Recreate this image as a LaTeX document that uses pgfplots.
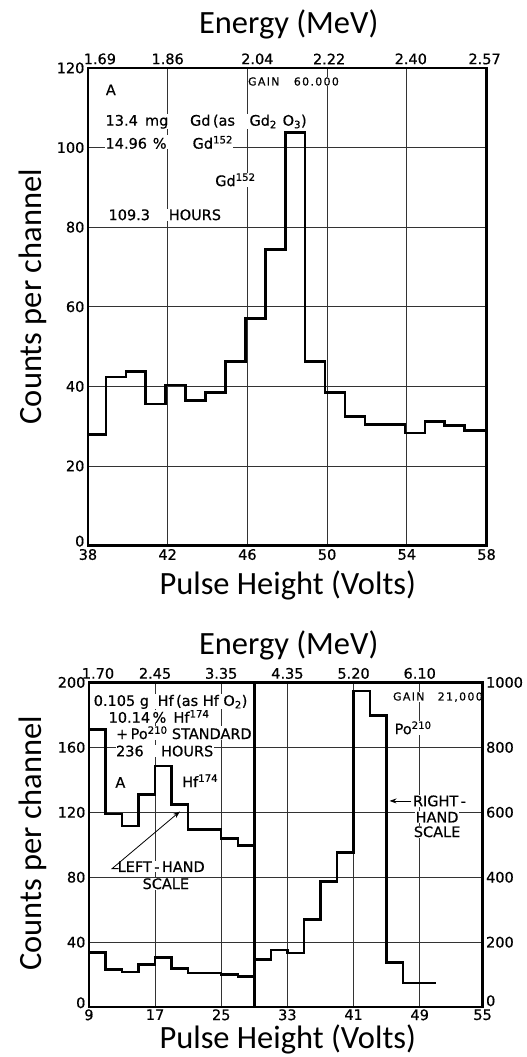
\documentclass[border=0pt]{standalone}
\usepackage{fontspec}
\setmainfont{DejaVu Sans}
\newfontfamily\labelfont{Carlito}
\newfontfamily\letterfont[FakeBold=0.6]{DejaVu Sans}
\usepackage{pgfplots}
\pgfplotsset{compat=1.18}
\usetikzlibrary{arrows.meta}

\pgfplotsset{
  panel/.style={scale only axis, anchor=south west,
    axis line style={line width=2.5pt},
    major tick length=0pt,
    tick label style={font=\letterfont\fontsize{14.5}{16}\selectfont},
    /pgf/number format/assume math mode=true,
    /pgf/number format/1000 sep={},
    clip=false},
  gridded/.style={set layers, grid=major, grid style={line width=0.7pt, black!80}},
  hist/.style={const plot, line width=2.5pt, black, mark=none},
}
\tikzset{
  ann/.style={font=\letterfont\fontsize{14.5}{16}\selectfont, inner sep=0.5pt, fill=white},
  small/.style={font=\letterfont\fontsize{11}{12}\selectfont\addfontfeature{LetterSpace=12}, inner sep=0.5pt, fill=white},
  biglabel/.style={font={\labelfont\fontsize{32.5}{38}\selectfont}},
}

\begin{document}
\begin{tikzpicture}[x=1pt,y=1pt]
\path (0,0) rectangle (527,-1057);

% ---------- axis titles ----------
\node[biglabel, anchor=base] at (289,-33.3) {Energy (MeV)};
\node[biglabel, anchor=base] at (288,-595) {Pulse Height (Volts)};
\node[biglabel, rotate=90, anchor=base] at (41.7,-297) {Counts per channel};
\node[biglabel, anchor=base] at (289,-655) {Energy (MeV)};
\node[biglabel, anchor=base] at (288,-1049) {Pulse Height (Volts)};
\node[biglabel, rotate=90, anchor=base] at (41.7,-844) {Counts per channel};

% ---------- top panel ----------
\begin{axis}[panel, gridded, at={(88pt,-546pt)}, width=399pt, height=478pt,
  xmin=38, xmax=58, ymin=0, ymax=120,
  xtick={38,42,46,50,54,58}, ytick={0,20,...,120},
  yticklabels={\raisebox{9pt}{0},20,40,60,80,100,120}]
\node[ann] at (axis cs:39.15,114.5) {A};
\node[small, anchor=west] at (axis cs:46,116.6) {GAIN\hspace{1.3em}60.000};
\node[ann, anchor=west] at (axis cs:38.85,106.5) {13.4\hspace{0.5em}mg\hspace{1.5em}Gd\,(as\hspace{1em}Gd\textsubscript{2}\hspace{0.4em}O\textsubscript{3})};
\node[ann, anchor=west] at (axis cs:38.85,101.3) {14.96\hspace{0.4em}\%\hspace{1.8em}Gd\textsuperscript{152}};
\node[ann] at (axis cs:45.4,91.9) {Gd\textsuperscript{152}};
\node[ann, anchor=west] at (axis cs:39.0,83.1) {109.3\hspace{1.3em}HOURS};
\addplot[hist] coordinates {(38,27.9) (38.9,42.4) (39.9,43.7) (40.9,35.5) (41.9,40.3)
  (42.9,36.4) (43.9,38.4) (44.9,46.3) (45.9,57.1) (46.9,74.4) (47.9,103.8)
  (48.9,46.3) (49.9,38.4) (50.9,32.4) (51.9,30.4) (52.9,30.4) (53.9,28.3)
  (54.9,31.2) (55.9,30.1) (56.9,28.9) (58,28.9)};
\end{axis}
\begin{axis}[panel, at={(88pt,-546pt)}, width=399pt, height=478pt,
  xmin=38, xmax=58, ymin=0, ymax=120,
  axis x line*=top, axis y line=none,
  xtick={38.6,42,46.5,50.1,54.2,57.9},
  xticklabels={1.69,1.86,2.04,2.22,2.40,2.57}]
\end{axis}

% ---------- bottom panel ----------
\begin{axis}[panel, gridded, at={(89pt,-1008pt)}, width=394pt, height=325pt,
  xmin=9, xmax=56.6, ymin=0, ymax=200,
  xtick={9,17,25,33,41,49,56.6}, xticklabels={9,17,25,33,41,49,55},
  x tick label style={inner sep=2pt},
  ytick={0,40,...,200},
  yticklabels={\raisebox{9pt}{0},40,80,120,160,200}]
\node[ann, anchor=west] at (axis cs:9.5,188) {0.105 g\hspace{0.6em}Hf\,(as Hf O\textsubscript{2})};
\node[ann, anchor=west] at (axis cs:11.3,179) {10.14\,\%\hspace{0.5em}Hf\textsuperscript{174}};
\node[ann, anchor=west] at (axis cs:12.2,169) {+\,Po\textsuperscript{210}\hspace{0.3em}STANDARD};
\node[ann, anchor=west] at (axis cs:12.2,157.7) {236\hspace{1.2em}HOURS};
\node[ann] at (axis cs:12.8,138.4) {A};
\node[ann, anchor=west] at (axis cs:20.2,139.4) {Hf\textsuperscript{174}};
\node[ann, anchor=west] at (axis cs:12.4,86.5) {LEFT\,-\,HAND};
\node[ann] at (axis cs:18.3,76) {SCALE};
\draw[line width=0.8pt, -{Stealth[length=7pt,width=5pt]}] (axis cs:12.6,85.3) -- (axis cs:11.8,85.3) -- (axis cs:20.0,120.5);
\node[small] at (axis cs:51.2,191) {GAIN\hspace{1.2em}21,000};
\node[ann] at (axis cs:48.2,172) {Po\textsuperscript{210}};
\node[ann, anchor=west] at (axis cs:48.1,127) {RIGHT\,-};
\node[ann] at (axis cs:51.1,117) {HAND};
\node[ann] at (axis cs:51.1,108) {SCALE};
\draw[line width=0.8pt, -{Stealth[length=7pt,width=5pt]}] (axis cs:48.0,127) -- (axis cs:45.35,127);
\addplot[hist] coordinates {(9,171) (11,119) (13,111.5) (15,131) (17,148.6) (19,124.8)
  (21,109.3) (23,109.3) (25,103.8) (27,99.7) (29,99.7)};
\addplot[hist] coordinates {(9,33.7) (11,23.2) (13,21.7) (15,26.3) (17,30.5) (19,23.8)
  (21,21.1) (23,21.1) (25,20.2) (27,18.9) (29,18.9)};
\draw[line width=2.5pt] (axis cs:29,0) -- (axis cs:29,200);
\end{axis}
\begin{axis}[panel, at={(89pt,-1008pt)}, width=394pt, height=325pt,
  xmin=9, xmax=56.6, ymin=0, ymax=1000,
  axis x line*=top, axis y line*=right,
  xtick={10.1,17,25,33,41,49}, xticklabels={1.70,2.45,3.35,4.35,5.20,6.10},
  ytick={0,200,...,1000},
  yticklabels={\raisebox{13pt}{0},200,400,600,800,1000}]
\addplot[hist] coordinates {(29,147) (31,176) (33,166) (35,270) (37,387) (39,476)
  (41,974) (43,898) (45,137) (47,74) (51,74)};
\end{axis}
\end{tikzpicture}
\end{document}
